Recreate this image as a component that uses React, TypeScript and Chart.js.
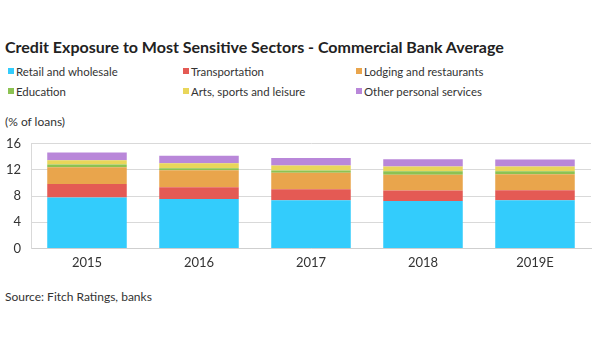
import React, { useEffect, useRef } from "react";
import { Chart, registerables } from "chart.js";

Chart.register(...registerables);

const years = ["2015", "2016", "2017", "2018", "2019E"];
const retail = [7.8, 7.55, 7.35, 7.25, 7.35];
const transportation = [2.05, 1.8, 1.68, 1.62, 1.56];
const lodging = [2.55, 2.6, 2.53, 2.4, 2.45];
const education = [0.42, 0.3, 0.37, 0.55, 0.46];
const arts = [0.66, 0.77, 0.76, 0.72, 0.72];
const otherPersonal = [1.18, 1.14, 1.12, 1.11, 1.06];
const yTicks = [0, 4, 8, 12, 16];

const seriesNames = [
  "Retail and wholesale",
  "Transportation",
  "Lodging and restaurants",
  "Education",
  "Arts, sports and leisure",
  "Other personal services",
];
const seriesData = [retail, transportation, lodging, education, arts, otherPersonal];
const colors = ["#33CCFC", "#E45A54", "#E9A54C", "#8CC252", "#E9D65A", "#B987D9"];

const FONT = "Lato, 'Open Sans', sans-serif";

export default function App() {
  const ref = useRef<HTMLCanvasElement | null>(null);

  useEffect(() => {
    if (!ref.current) return;
    const chart = new Chart(ref.current, {
      type: "bar",
      data: {
        labels: years,
        datasets: seriesNames.map((name, i) => ({
          label: name,
          data: seriesData[i],
          backgroundColor: colors[i],
          borderWidth: 0,
          barPercentage: 0.71,
          categoryPercentage: 1,
        })),
      },
      options: {
        animation: false,
        responsive: false,
        maintainAspectRatio: false,
        layout: { padding: { top: 0, right: 9, bottom: 6, left: 0 } },
        plugins: { legend: { display: false }, tooltip: { enabled: false } },
        scales: {
          x: {
            stacked: true,
            grid: { display: false, drawTicks: false },
            border: { color: "#cfcfcf" },
            ticks: { color: "#333", font: { family: FONT, size: 13 }, padding: 7 },
          },
          y: {
            stacked: true,
            min: 0,
            max: 16,
            afterBuildTicks: (axis: any) => {
              axis.ticks = yTicks.map((v) => ({ value: v }));
            },
            afterFit: (axis: any) => {
              axis.width = 31;
            },
            grid: { color: "#d9d9d9", drawTicks: false },
            border: { color: "#d9d9d9" },
            ticks: { color: "#333", font: { family: FONT, size: 13 }, padding: 10 },
          },
        },
      },
    });
    return () => chart.destroy();
  }, []);

  const legendCols = [8, 183, 356];

  return (
    <div
      style={{
        position: "fixed",
        left: 0,
        top: 0,
        width: 600,
        height: 360,
        background: "#fff",
        fontFamily: FONT,
        color: "#222",
      }}
    >
      <div
        style={{
          position: "absolute",
          left: 5,
          top: 36,
          fontSize: 16,
          fontWeight: 700,
          lineHeight: "22px",
          whiteSpace: "nowrap",
          color: "#222",
        }}
      >
        Credit Exposure to Most Sensitive Sectors - Commercial Bank Average
      </div>
      {seriesNames.map((name, i) => {
        const col = i % 3;
        const row = Math.floor(i / 3);
        return (
          <div
            key={name}
            style={{
              position: "absolute",
              left: legendCols[col],
              top: 63 + row * 20,
              height: 16,
              display: "flex",
              alignItems: "center",
              fontSize: 11.4,
              whiteSpace: "nowrap",
              color: "#333",
            }}
          >
            <span
              style={{
                display: "inline-block",
                width: 6,
                height: 6,
                background: colors[i],
                marginRight: 2,
              }}
            />
            {name}
          </div>
        );
      })}
      <div
        style={{
          position: "absolute",
          left: 5,
          top: 114,
          fontSize: 12,
          lineHeight: "16px",
          color: "#333",
        }}
      >
        (% of loans)
      </div>
      <canvas
        ref={ref}
        width={600}
        height={158}
        style={{ position: "absolute", left: 0, top: 126, width: 600, height: 158 }}
      />
      <div
        style={{
          position: "absolute",
          left: 5,
          top: 289,
          fontSize: 12,
          lineHeight: "16px",
          color: "#333",
        }}
      >
        Source: Fitch Ratings, banks
      </div>
    </div>
  );
}
